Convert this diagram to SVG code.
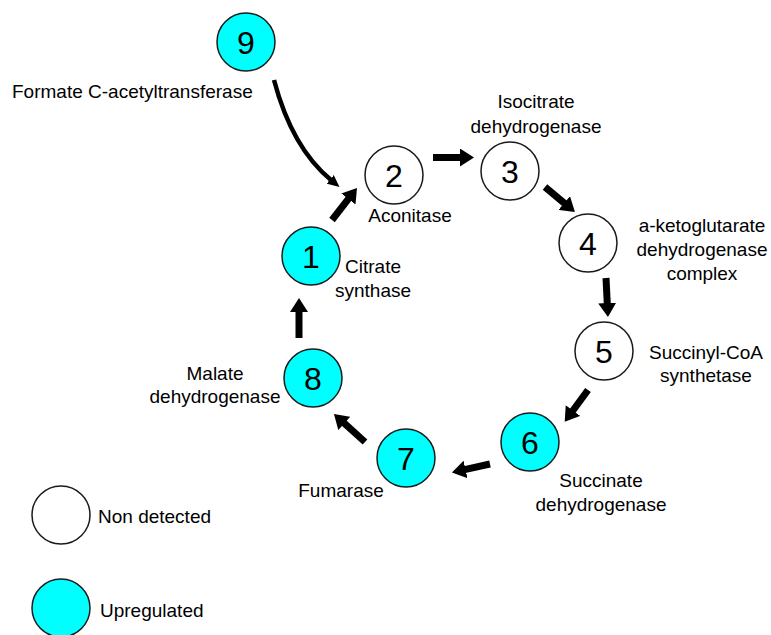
<svg xmlns="http://www.w3.org/2000/svg" width="771" height="635" viewBox="0 0 771 635">
<style>
.bg{fill:#ffffff}
.node{stroke:#1a1a1a;stroke-width:1.5}
.nd{fill:#ffffff}
.up{fill:#00ffff}
.num{font-family:"Liberation Sans",Arial,sans-serif;font-size:32px;fill:#000;text-anchor:middle}
.lbl{font-family:"Liberation Sans",Arial,sans-serif;font-size:19px;fill:#000}
.mid{text-anchor:middle}
.arr{stroke:#000;stroke-width:7;fill:none;marker-end:url(#head)}
.thin{stroke:#000;stroke-width:4.5;fill:none;marker-end:url(#headsm)}
</style>
<defs>
<marker id="head" markerUnits="userSpaceOnUse" viewBox="0 0 14 18" markerWidth="14" markerHeight="18" refX="1" refY="9" orient="auto">
<path d="M0,0 L14,9 L0,18 z" fill="#000"/>
</marker>
<marker id="headsm" markerUnits="userSpaceOnUse" viewBox="0 0 12 11" markerWidth="12" markerHeight="11" refX="1" refY="5.5" orient="auto">
<path d="M0,0 L12,5.5 L0,11 z" fill="#000"/>
</marker>
</defs>
<rect class="bg" x="0" y="0" width="771" height="635"/>
<g id="connectors">
<path class="thin" d="M274,80 Q292,148 331,180"/>
<line class="arr" x1="332" y1="220" x2="349" y2="198.2"/>
<line class="arr" x1="433" y1="157.5" x2="461" y2="157.5"/>
<line class="arr" x1="545" y1="187" x2="565" y2="203.7"/>
<line class="arr" x1="606" y1="278" x2="607.3" y2="304"/>
<line class="arr" x1="588" y1="390" x2="572.4" y2="411.3"/>
<line class="arr" x1="490" y1="464" x2="464.6" y2="469.7"/>
<line class="arr" x1="365" y1="442" x2="343.6" y2="422.7"/>
<line class="arr" x1="299" y1="338" x2="299" y2="311"/>
</g>
<g id="node9"><circle class="node up" cx="246" cy="42" r="29"/><text class="num" x="246" y="54">9</text><text class="lbl" x="12" y="98">Formate C-acetyltransferase</text></g>
<g id="node2"><circle class="node nd" cx="394" cy="175" r="29"/><text class="num" x="394" y="187">2</text><text class="lbl mid" x="410" y="222">Aconitase</text></g>
<g id="node3"><circle class="node nd" cx="510" cy="171" r="29"/><text class="num" x="510" y="183">3</text><text class="lbl mid" x="536" y="108">Isocitrate</text><text class="lbl mid" x="536" y="133">dehydrogenase</text></g>
<g id="node4"><circle class="node nd" cx="588" cy="243" r="29"/><text class="num" x="588" y="255">4</text><text class="lbl mid" x="702" y="232">a-ketoglutarate</text><text class="lbl mid" x="702" y="256">dehydrogenase</text><text class="lbl mid" x="702" y="280">complex</text></g>
<g id="node5"><circle class="node nd" cx="604" cy="351" r="29"/><text class="num" x="604" y="363">5</text><text class="lbl mid" x="706" y="359">Succinyl-CoA</text><text class="lbl mid" x="706" y="382">synthetase</text></g>
<g id="node6"><circle class="node up" cx="530" cy="442" r="29"/><text class="num" x="530" y="454">6</text><text class="lbl mid" x="601" y="487">Succinate</text><text class="lbl mid" x="601" y="511">dehydrogenase</text></g>
<g id="node7"><circle class="node up" cx="406" cy="458" r="29"/><text class="num" x="406" y="470">7</text><text class="lbl mid" x="341" y="497">Fumarase</text></g>
<g id="node8"><circle class="node up" cx="313" cy="378" r="29"/><text class="num" x="313" y="390">8</text><text class="lbl mid" x="215" y="380">Malate</text><text class="lbl mid" x="215" y="403">dehydrogenase</text></g>
<g id="node1"><circle class="node up" cx="311" cy="256" r="29"/><text class="num" x="311" y="268">1</text><text class="lbl mid" x="373" y="273">Citrate</text><text class="lbl mid" x="373" y="297">synthase</text></g>
<g id="legend-nd"><circle class="node nd" cx="61" cy="515" r="29"/><text class="lbl" x="98" y="523">Non detected</text></g>
<g id="legend-up"><circle class="node up" cx="61" cy="608" r="29"/><text class="lbl" x="100" y="617">Upregulated</text></g>
</svg>
